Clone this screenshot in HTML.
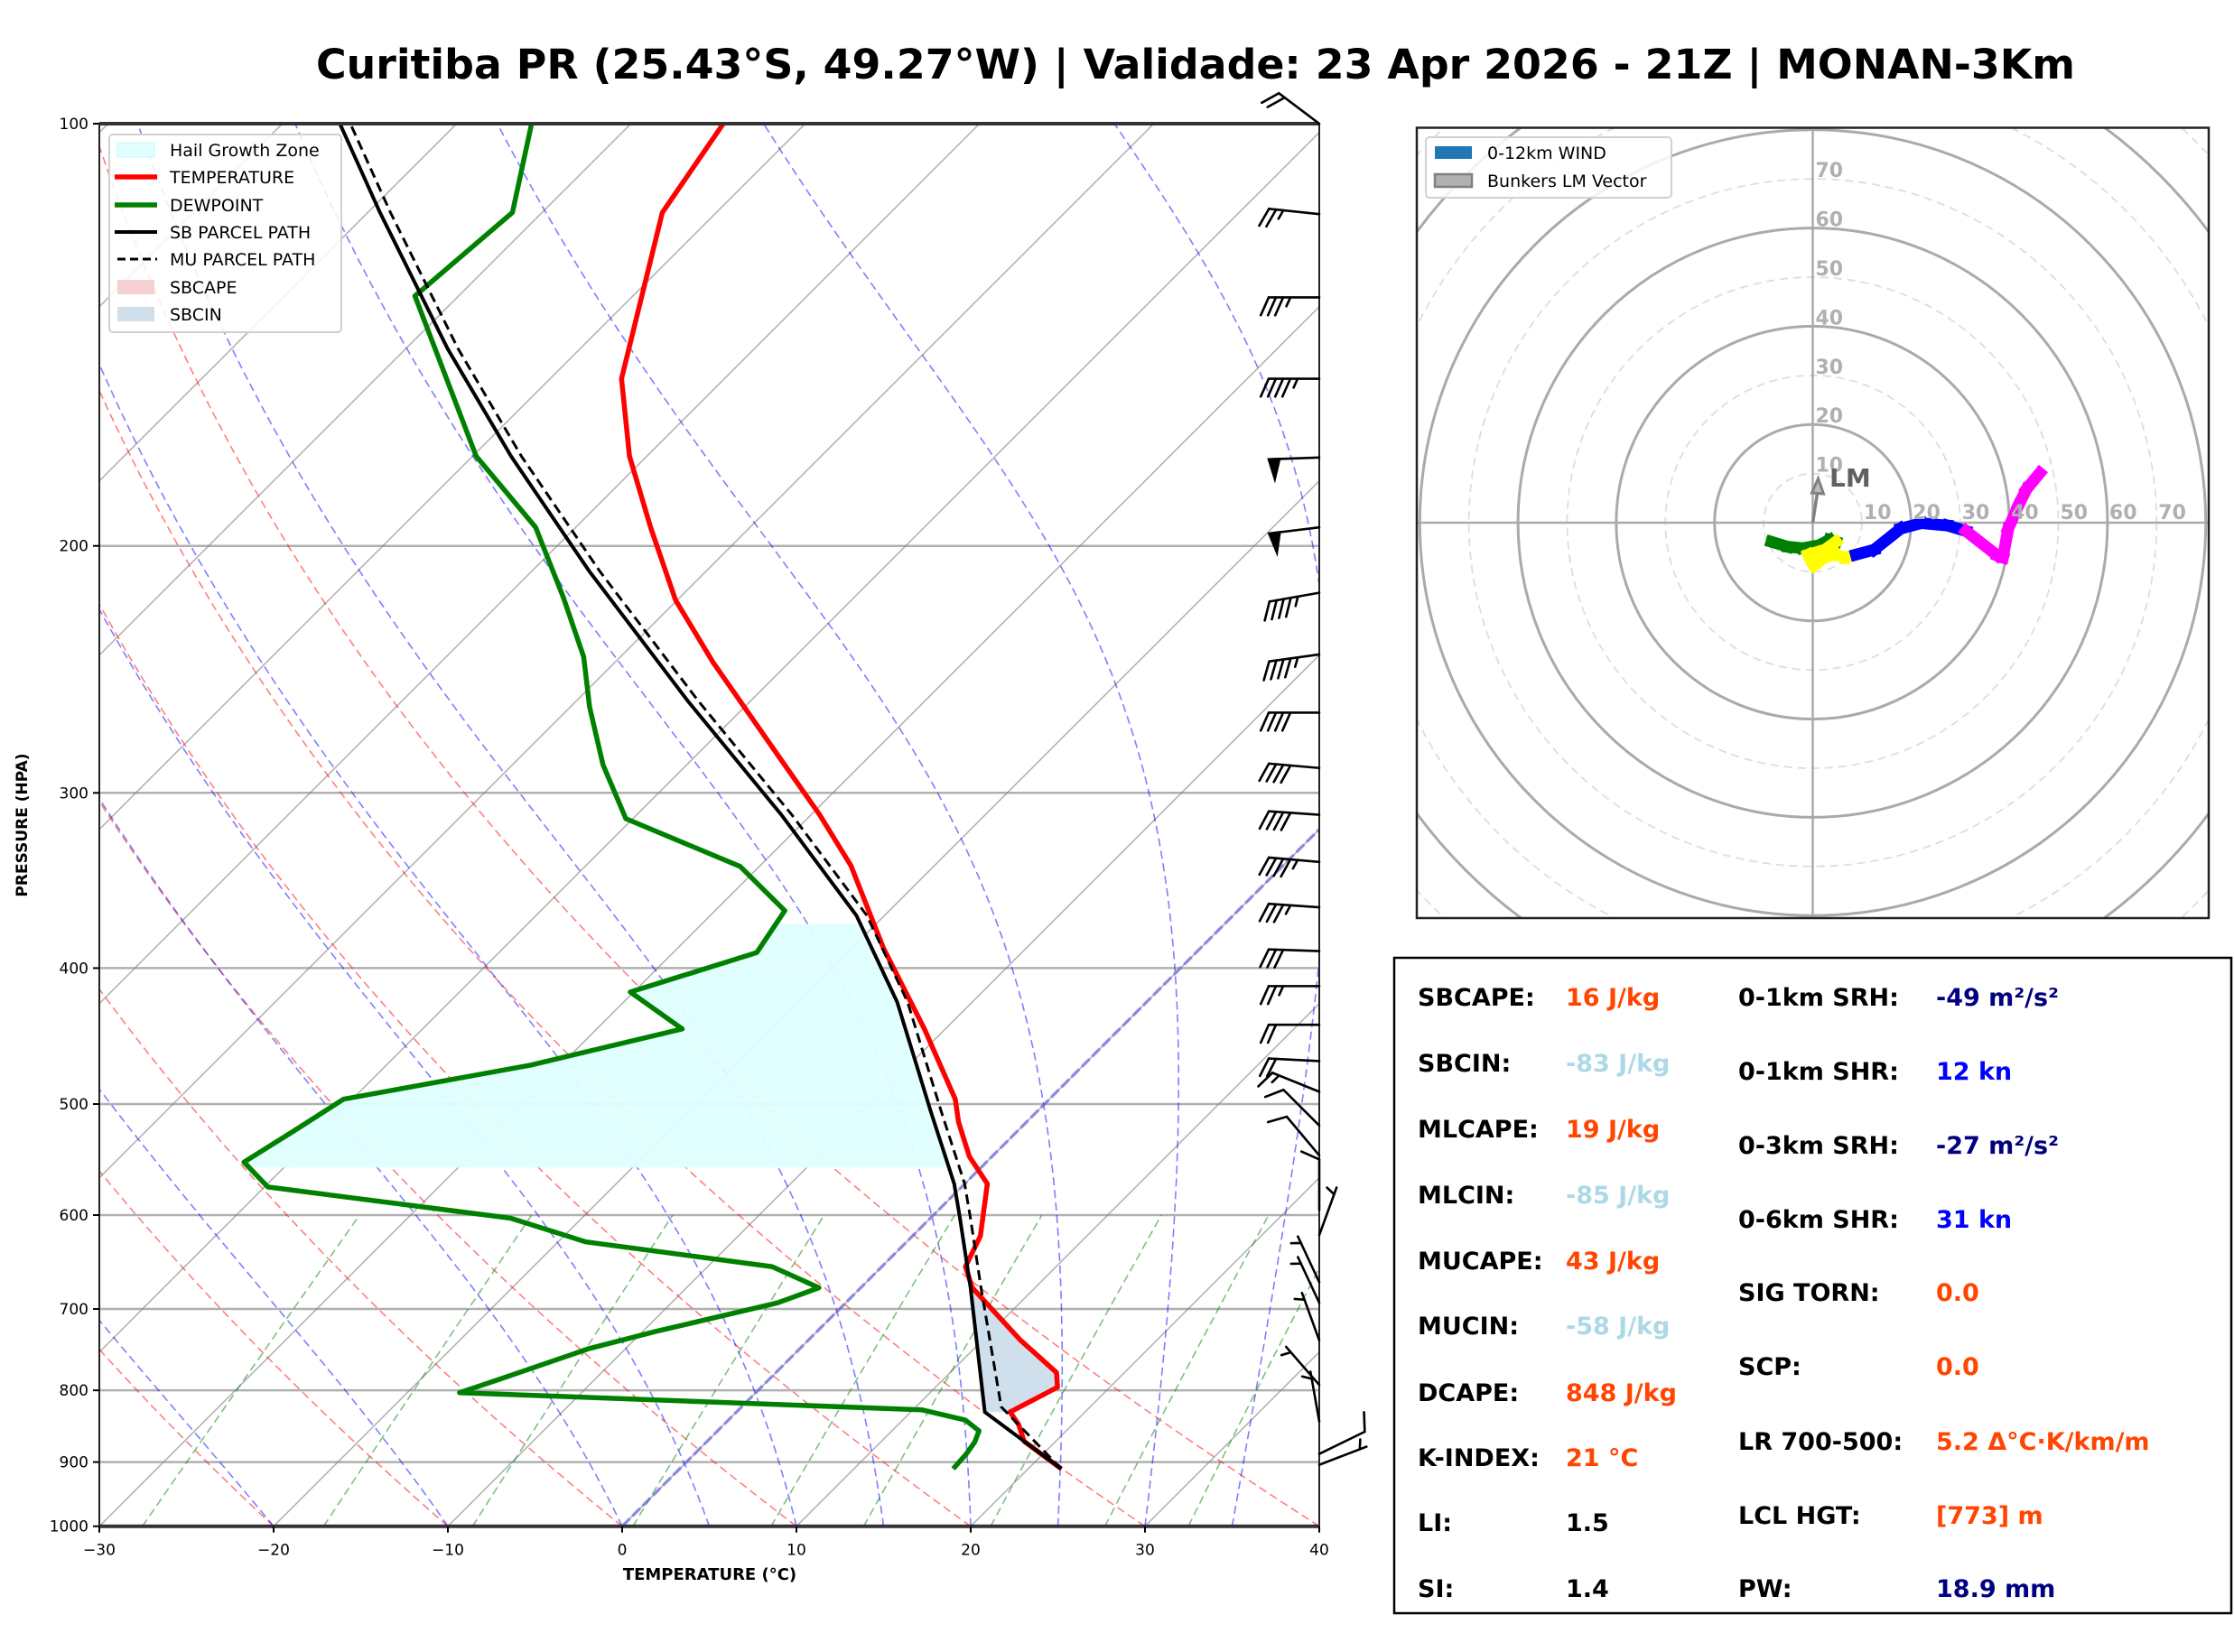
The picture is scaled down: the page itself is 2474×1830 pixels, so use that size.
<!DOCTYPE html>
<html><head><meta charset="utf-8"><style>
html,body{margin:0;padding:0;background:#fff;}
svg{display:block;font-family:"DejaVu Sans","Liberation Sans",sans-serif;}
</style></head><body>
<svg id="fig" xmlns="http://www.w3.org/2000/svg" width="2474" height="1830" viewBox="0 0 2474 1830">
<rect x="0" y="0" width="2474" height="1830" fill="#fff"/>
<text x="350" y="87" font-size="45" font-weight="bold" textLength="1948" lengthAdjust="spacingAndGlyphs">Curitiba PR (25.43°S, 49.27°W) | Validade: 23 Apr 2026 - 21Z | MONAN-3Km</text>
<defs>
<clipPath id="skewClip"><rect x="110" y="137" width="1351" height="1553.7"/></clipPath>
<clipPath id="hodoClip"><rect x="1569" y="141.5" width="877" height="875.5"/></clipPath>
</defs>
<g id="skew"></g>
<g id="barbs"></g>
<g id="hodo"></g>
<g id="table"></g>
</svg>
<script>
// ---------- data ----------
const tempP = [100,115.7,152,172.6,194,218.6,242,284.5,311,338,387,442,496,515,545,570,621,653,676,736,777,796,829,846,870,910];
const tempT = [-74.7,-73.1,-65.9,-61.0,-55.7,-50.1,-44.4,-34.8,-29.5,-24.8,-18.2,-11.2,-5.4,-3.9,-1.3,1.3,3.9,4.8,6.4,12.1,16.1,17.0,15.7,16.9,18.2,21.9];
const dewP = [100,115.7,132.7,172.6,194,217.6,240,260.5,286.5,313,338.5,364,390,416,442,469,496,522,550,573,603,627,653,676,693,726,747,787,803,826,840,855,871,888,910];
const dewT = [-85.7,-81.7,-82.5,-69.8,-62.3,-56.7,-52.1,-48.9,-44.8,-40.4,-31.1,-26.0,-25.2,-30.2,-25.1,-31.7,-40.5,-41.5,-42.6,-39.8,-24.1,-18.4,-6.3,-2.4,-3.9,-9.2,-12.1,-15.6,-17.0,10.5,13.6,15.0,15.4,15.6,15.7];
const sbP = [910,829,676,603,570,505,423,367,311,258,208.5,172.6,144.7,115.7,100];
const sbT = [21.9,14.25,6.3,1.7,-0.6,-6.2,-14.3,-21.6,-31.7,-43.6,-56.7,-67.8,-77.6,-89.3,-96.7];
const muP = [910,822,676,603,570,505,423,367,311,258,208.5,172.6,144.7,115.7,100];
const muT = [21.9,14.9,6.9,2.3,0.0,-5.6,-13.7,-21.0,-31.1,-43.0,-56.1,-67.2,-77.0,-88.7,-96.1];
const barbP = [100,116,133,152,173,194,216,239,263,288,311,336,362,389,412,439,466,490,518,544,595,620,670,693,737,793,842,888,904];
const barbSpd = [20,25,35,45,50,50,45,45,40,40,40,45,35,30,25,20,20,15,10,10,10,5,5,5,5,5,5,10,5];
const barbDir = [307,276,270,270,268,263,260,262,270,275,274,275,274,272,270,270,273,292,315,320,360,20,335,335,340,319,350,64,69];
const hodoU = [-8.8,-8.4,-5.1,-2.0,1.3,3.4,4.7,2.5,-0.9,0.2,2.4,4.5,6.6,8.8,12.5,17.9,22.1,27.5,31.2,37.6,38.7,39.8,41.9,43.5,46.2];
const hodoV = [-3.1,-3.9,-4.9,-5.2,-4.6,-3.5,-3.9,-5.5,-6.5,-8.7,-7.1,-6.5,-7.1,-6.5,-5.5,-1.2,-0.1,-0.6,-1.7,-6.7,-7.1,-1.2,3.6,6.8,10.1];
const hodoLayer = ['r','g','g','g','g','g','g','y','y','y','y','y','y','y','b','b','b','b','b','m','m','m','m','m','m'];
const lmU = [1.1], lmV = [9.0];
const yTicks = [100,200,300,400,500,600,700,800,900,1000];
const xTicks = [-30,-20,-10,0,10,20,30,40];
const dryT0 = [-50,-40,-30,-20,-10,0,10,20,30,40];
const moistT0 = [-30,-20,-10,0,5,10,15,20,25,30,35];
const mixW = [0.0004,0.001,0.002,0.004,0.007,0.01,0.016,0.024,0.032];
const hgzTop = 371, hgzBot = 555, cinTop = 676, cinBot = 829;
const tableLeftLabels = ['SBCAPE:','SBCIN:','MLCAPE:','MLCIN:','MUCAPE:','MUCIN:','DCAPE:','K-INDEX:','LI:','SI:'];
const tableLeftValues = ['16 J/kg','-83 J/kg','19 J/kg','-85 J/kg','43 J/kg','-58 J/kg','848 J/kg','21 °C','1.5','1.4'];
const tableLeftColors = ['#ff4500','#add8e6','#ff4500','#add8e6','#ff4500','#add8e6','#ff4500','#ff4500','#000','#000'];
const tableRightLabels = ['0-1km SRH:','0-1km SHR:','0-3km SRH:','0-6km SHR:','SIG TORN:','SCP:','LR 700-500:','LCL HGT:','PW:'];
const tableRightValues = ['-49 m²/s²','12 kn','-27 m²/s²','31 kn','0.0','0.0','5.2 Δ°C·K/km/m','[773] m','18.9 mm'];
const tableRightColors = ['#000080','#0000ff','#000080','#0000ff','#ff4500','#ff4500','#ff4500','#ff4500','#000080'];

// ---------- helpers ----------
const NS = 'http://www.w3.org/2000/svg';
function mk(tag, attrs, parent){const e=document.createElementNS(NS,tag);for(const k in attrs)e.setAttribute(k,attrs[k]);if(parent)parent.appendChild(e);return e;}
const X0=110,X1=1461,Y0=137,Y1=1690.7,PXT=19.3;
function yP(p){return Y0+(Y1-Y0)*Math.log10(p/100);}
function xT(T,p){return X0+(T+30)*PXT+(Y1-yP(p));}
function pts(P,T){return P.map((p,i)=>xT(T[i],p).toFixed(1)+','+yP(p).toFixed(1)).join(' ');}
function interp(P,T,p){
  for(let i=0;i<P.length-1;i++){
    const a=P[i],b=P[i+1];
    if((p-a)*(p-b)<=0){const f=(Math.log(p)-Math.log(a))/(Math.log(b)-Math.log(a));return T[i]+f*(T[i+1]-T[i]);}
  }
  return T[Math.abs(p-P[0])<Math.abs(p-P[P.length-1])?0:P.length-1];
}

// ---------- skew-T ----------
const skew=document.getElementById('skew');
const bg=mk('g',{'clip-path':'url(#skewClip)'},skew);


yTicks.forEach(p=>{
  const l=mk('line',{x1:X0,x2:X1,y1:yP(p),y2:yP(p),stroke:'#b0b0b0','stroke-width':2.5},bg);
  
  
});
for(let T=-120;T<=40;T+=10){
  const l=mk('line',{x1:xT(T,1000),y1:yP(1000),x2:xT(T,100),y2:yP(100),stroke:'#808080','stroke-opacity':0.6,'stroke-width':1.6},bg);
  
  
}
const pLev=[];for(let p=1000;p>=100;p-=10)pLev.push(p);
dryT0.forEach(t0=>{
  const th=t0+273.15;
  const d=pLev.map(p=>xT(th*Math.pow(p/1000,0.2857)-273.15,p).toFixed(1)+','+yP(p).toFixed(1)).join(' ');
  const l=mk('polyline',{points:d,fill:'none',stroke:'#ff0000','stroke-opacity':0.5,'stroke-width':1.6,'stroke-dasharray':'9,5'},bg);
  
  
});
function dTdp(p,T){const es=6.112*Math.exp(17.67*(T-273.15)/(T-29.65));const rs=0.622*es/(p-es);
  return (287.04*T+2.501e6*rs)/(1005.7+(2.501e6*2.501e6*rs*0.622)/(287.04*T*T))/p;}
moistT0.forEach(t0=>{
  let T=t0+273.15,p=1000;const arr=[[xT(t0,1000),yP(1000)]];
  while(p>100){const h=-5;const k1=dTdp(p,T);const k2=dTdp(p+h/2,T+h/2*k1);T+=h*k2;p+=h;arr.push([xT(T-273.15,p),yP(p)]);}
  const l=mk('polyline',{points:arr.map(a=>a[0].toFixed(1)+','+a[1].toFixed(1)).join(' '),fill:'none',stroke:'#0000ff','stroke-opacity':0.5,'stroke-width':1.6,'stroke-dasharray':'9,5'},bg);
  
  
});
mixW.forEach(w=>{
  const arr=[];for(let p=1000;p>=600;p-=20){const e=p*w/(0.622+w);const L=Math.log(e/6.112);const td=243.5*L/(17.67-L);arr.push(xT(td,p).toFixed(1)+','+yP(p).toFixed(1));}
  const l=mk('polyline',{points:arr.join(' '),fill:'none',stroke:'#008000','stroke-opacity':0.5,'stroke-width':1.6,'stroke-dasharray':'9,5'},bg);
  
  
});
const z=mk('line',{x1:xT(0,1000),y1:yP(1000),x2:xT(0,100),y2:yP(100),stroke:'#6060e0','stroke-opacity':0.6,'stroke-width':3.5,'stroke-dasharray':'12,4'},bg);


(function(){
  const L=[],R=[];
  for(let p=hgzBot;p>=hgzTop;p-=3){L.push(xT(interp(dewP,dewT,p),p).toFixed(1)+','+yP(p).toFixed(1));R.push(xT(interp(sbP,sbT,p),p).toFixed(1)+','+yP(p).toFixed(1));}
  const f=mk('polygon',{points:L.concat(R.reverse()).join(' '),fill:'#e0ffff','fill-opacity':0.95},bg);
  
  
})();
(function(){
  const L=[],R=[];
  for(let p=cinBot;p>=cinTop;p-=3){L.push(xT(interp(sbP,sbT,p),p).toFixed(1)+','+yP(p).toFixed(1));R.push(xT(interp(tempP,tempT,p),p).toFixed(1)+','+yP(p).toFixed(1));}
  const f=mk('polygon',{points:L.concat(R.reverse()).join(' '),fill:'#cfe0ec'},bg);
  
  
})();
const tl=mk('polyline',{points:pts(tempP,tempT),fill:'none',stroke:'#ff0000','stroke-width':5.5,'stroke-linejoin':'round'},bg);


const dl=mk('polyline',{points:pts(dewP,dewT),fill:'none',stroke:'#008000','stroke-width':5.5,'stroke-linejoin':'round'},bg);


const sl=mk('polyline',{points:pts(sbP,sbT),fill:'none',stroke:'#000','stroke-width':4},bg);


const ml=mk('polyline',{points:pts(muP,muT),fill:'none',stroke:'#000','stroke-width':3,'stroke-dasharray':'11,6'},bg);


const fr=mk('rect',{x:X0,y:Y0,width:X1-X0,height:Y1-Y0,fill:'none',stroke:'#222','stroke-width':2},skew);


[100,1000].forEach(p=>{mk('line',{x1:X0,x2:X1,y1:yP(p),y2:yP(p),stroke:'#333','stroke-width':4},skew);});
yTicks.forEach(p=>{
  mk('line',{x1:X0-7,x2:X0,y1:yP(p),y2:yP(p),stroke:'#000','stroke-width':2},skew);
  const t=mk('text',{x:X0-12,y:yP(p)+6,'font-size':17,'text-anchor':'end'},skew);t.textContent=p;
  
  
});
xTicks.forEach(T=>{
  const x=X0+(T+30)*PXT;
  mk('line',{x1:x,x2:x,y1:Y1,y2:Y1+7,stroke:'#000','stroke-width':2},skew);
  const t=mk('text',{x:x,y:Y1+32,'font-size':17,'text-anchor':'middle'},skew);t.textContent=(T<0?'\u2212'+(-T):T);
  
  
});
const xl=mk('text',{x:786,y:1750,'font-size':18,'font-weight':'bold','text-anchor':'middle'},skew);xl.textContent='TEMPERATURE (°C)';


const yl=mk('text',{x:0,y:0,'font-size':17,'font-weight':'bold','text-anchor':'middle',transform:'translate(30,914) rotate(-90)'},skew);yl.textContent='PRESSURE (HPA)';


(function(){
  const g=mk('g',{},skew);
  
  
  mk('rect',{x:121,y:149,width:257,height:219,rx:4,fill:'#fff','fill-opacity':0.85,stroke:'#d0d0d0','stroke-width':2},g);
  const names=['Hail Growth Zone','TEMPERATURE','DEWPOINT','SB PARCEL PATH','MU PARCEL PATH','SBCAPE','SBCIN'];
  const ys=[166,196,227,257,287,318,348];
  names.forEach((n,i)=>{
    const y=ys[i];
    if(i==0) mk('rect',{x:130,y:y-8,width:41,height:16,fill:'#e0ffff',stroke:'#c8f4f4'},g);
    if(i==1) mk('line',{x1:127,x2:174,y1:y,y2:y,stroke:'#f00','stroke-width':5.5},g);
    if(i==2) mk('line',{x1:127,x2:174,y1:y,y2:y,stroke:'#008000','stroke-width':5.5},g);
    if(i==3) mk('line',{x1:127,x2:174,y1:y,y2:y,stroke:'#000','stroke-width':4},g);
    if(i==4) mk('line',{x1:130,x2:174,y1:y,y2:y,stroke:'#000','stroke-width':3,'stroke-dasharray':'9,5'},g);
    if(i==5) mk('rect',{x:130,y:y-8,width:41,height:16,fill:'#f5d0d3'},g);
    if(i==6) mk('rect',{x:130,y:y-8,width:41,height:16,fill:'#cfe0ec'},g);
    const t=mk('text',{x:188,y:y+7,'font-size':19},g);t.textContent=n;
    
    
  });
})();

// ---------- barbs ----------
const barbs=document.getElementById('barbs');
barbP.forEach((p,i)=>{
  const spd=Math.round(barbSpd[i]/5)*5, a=barbDir[i]*Math.PI/180;
  const bx=X1, by=yP(p), Ls=56, Lb=22;
  const dx=Math.sin(a), dy=-Math.cos(a);
  const nx=dy, ny=-dx;
  const tx=bx+Ls*dx, ty=by+Ls*dy;
  const g=mk('g',{stroke:'#000','stroke-width':2.6,fill:'#000','stroke-linecap':'round'},barbs);
  
  
  mk('line',{x1:bx,y1:by,x2:tx,y2:ty},g);
  let flags=Math.floor(spd/50), full=Math.floor((spd%50)/10), half=(spd%10)>=5;
  let pos=0;
  if(flags==0&&full==0&&half) pos=8;
  for(let k=0;k<flags;k++){
    const p1=[tx-pos*dx,ty-pos*dy], p2=[tx-(pos+12)*dx,ty-(pos+12)*dy], ap=[tx-(pos+6)*dx+Lb*nx,ty-(pos+6)*dy+Lb*ny];
    mk('polygon',{points:p1.join(',')+' '+p2.join(',')+' '+ap.join(',')},g);pos+=15;
  }
  for(let k=0;k<full;k++){
    const qx=tx-pos*dx,qy=ty-pos*dy;
    mk('line',{x1:qx,y1:qy,x2:qx+Lb*(0.9*nx+0.4*dx),y2:qy+Lb*(0.9*ny+0.4*dy)},g);pos+=8;
  }
  if(half){const qx=tx-pos*dx,qy=ty-pos*dy;mk('line',{x1:qx,y1:qy,x2:qx+Lb*0.5*(0.9*nx+0.4*dx),y2:qy+Lb*0.5*(0.9*ny+0.4*dy)},g);}
});

// ---------- hodograph ----------
const hodo=document.getElementById('hodo');
const HX=2007.5,HY=579,K=5.44;
const hg=mk('g',{'clip-path':'url(#hodoClip)'},hodo);
for(let r=10;r<=110;r+=10){
  const c=mk('circle',{cx:HX,cy:HY,r:r*K,fill:'none',stroke:r%20==0?'#aaa':'#ddd','stroke-width':r%20==0?3:1.8,'stroke-dasharray':r%20==0?'none':'9,6'},hg);
  
  
}
mk('line',{x1:1569,x2:2446,y1:HY,y2:HY,stroke:'#aaa','stroke-width':2.5},hg);
mk('line',{x1:HX,x2:HX,y1:141.5,y2:1017,stroke:'#aaa','stroke-width':2.5},hg);
for(let r=10;r<=70;r+=10){
  const t1=mk('text',{x:HX+r*K+2,y:HY-4,'font-size':22,'font-weight':'bold',fill:'#b0b0b0'},hodo);t1.textContent=r;
  
  
  const t2=mk('text',{x:HX+3,y:HY-r*K-2,'font-size':22,'font-weight':'bold',fill:'#b0b0b0'},hodo);t2.textContent=r;
  
  
}
const colMap={r:'#ff0000',g:'#008000',y:'#ffff00',b:'#0000ff',m:'#ff00ff'};
for(let i=0;i<hodoU.length-1;i++){
  const s=mk('line',{x1:HX+hodoU[i]*K,y1:HY-hodoV[i]*K,x2:HX+hodoU[i+1]*K,y2:HY-hodoV[i+1]*K,stroke:colMap[hodoLayer[i+1]],'stroke-width':i==0?5:13,'stroke-linecap':'square'},hg);
  
  
}
(function(){
  const ex=HX+lmU[0]*K, ey=HY-lmV[0]*K;
  const g=mk('g',{},hodo);
  
  
  mk('line',{x1:HX,y1:HY,x2:ex,y2:ey+10,stroke:'#808080','stroke-width':3.5},g);
  mk('polygon',{points:`${ex},${ey} ${ex-7},${ey+16} ${ex+6},${ey+17}`,fill:'#bbb',stroke:'#808080','stroke-width':3},g);
  const t=mk('text',{x:2026,y:539,'font-size':28,'font-weight':'bold',fill:'#606060'},g);t.textContent='LM';
})();
const hf=mk('rect',{x:1569,y:141.5,width:877,height:875.5,fill:'none',stroke:'#222','stroke-width':2.5},hodo);


(function(){
  const g=mk('g',{},hodo);
  
  
  mk('rect',{x:1579,y:152,width:272,height:67,rx:4,fill:'#fff','fill-opacity':0.85,stroke:'#d0d0d0','stroke-width':2},g);
  mk('rect',{x:1589,y:162,width:41,height:14,fill:'#1f77b4'},g);
  mk('rect',{x:1589,y:193,width:41,height:14,fill:'#b0b0b0',stroke:'#808080','stroke-width':2.5},g);
  const t1=mk('text',{x:1647,y:176,'font-size':19},g);t1.textContent='0-12km WIND';
  const t2=mk('text',{x:1647,y:207,'font-size':19},g);t2.textContent='Bunkers LM Vector';
})();

// ---------- table ----------
const table=document.getElementById('table');
const tb=mk('rect',{x:1544,y:1061,width:927,height:726,fill:'#fff',stroke:'#000','stroke-width':2.5},table);


const leftY=[1104,1177,1250,1323,1396,1468,1542,1614,1686,1759];
const rightY=[1104,1186,1268,1350,1431,1513,1596,1678,1759];
tableLeftLabels.forEach((s,i)=>{
  const a=mk('text',{x:1570,y:leftY[i]+10,'font-size':27,'font-weight':'bold'},table);a.textContent=s;
  
  
  const b=mk('text',{x:1734,y:leftY[i]+10,'font-size':27,'font-weight':'bold',fill:tableLeftColors[i]},table);b.textContent=tableLeftValues[i];
  
  
});
tableRightLabels.forEach((s,i)=>{
  const a=mk('text',{x:1925,y:rightY[i]+10,'font-size':27,'font-weight':'bold'},table);a.textContent=s;
  
  
  const b=mk('text',{x:2144,y:rightY[i]+10,'font-size':27,'font-weight':'bold',fill:tableRightColors[i]},table);b.textContent=tableRightValues[i];
  
  
});
</script>
</body></html>
